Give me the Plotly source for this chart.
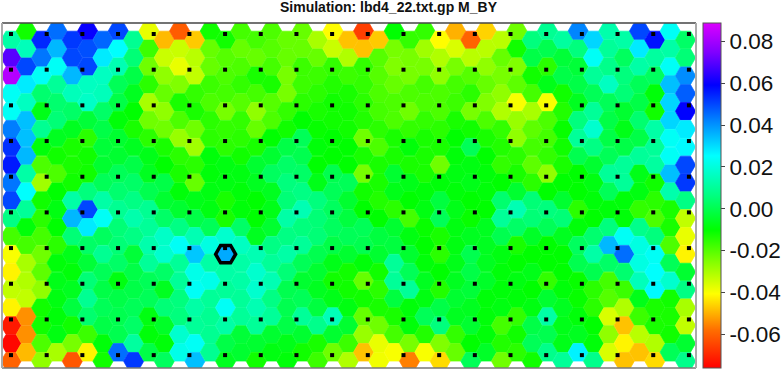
import numpy as np
import plotly.graph_objects as go

TITLE = "Simulation: lbd4_22.txt.gp M_BY"
TICK_VALUES = [-0.06, -0.04, -0.02, 0.00, 0.02, 0.04, 0.06, 0.08]
TICK_LABELS = ["-0.06", "-0.04", "-0.02", "0.00", "0.02", "0.04", "0.06", "0.08"]
VALUE_MIN, VALUE_MAX = -0.0762, 0.0889

# Hexagon values per lattice column, top to bottom, in units of 0.001
C00 = [12,70,83,24,24,43,53,56,44,50,7,-18,-40,-42,-33,-42,-72,-75,-60]
C01 = [-12,15,50,28,16,34,34,35,12,25,10,-9,-18,-30,-31,-33,-54,-54,-49]
C02 = [54,44,24,4,-7,9,-9,-19,-29,-12,-15,-18,-23,-21,-27,-12,-12,-19,-27]
C03 = [45,35,24,10,4,5,-6,-12,-19,-10,-8,-10,-15,-9,-7,-8,-9,-8,-30]
C04 = [52,50,35,15,3,-6,-13,-13,-12,12,35,5,-7,-9,-6,-2,-12,-24,-62]
C05 = [60,49,50,16,17,-3,-15,-12,-12,6,50,28,3,-3,5,9,4,-17,-42]
C06 = [46,28,16,15,3,-1,-3,-4,1,12,24,2,9,1,-1,1,-1,-9,-12]
C07 = [50,25,14,1,-1,-9,-4,-4,1,4,9,5,5,3,-8,-1,0,0,45]
C08 = [9,5,-1,-6,-10,-13,-6,-1,3,7,13,7,-3,-1,-1,1,3,11,52]
C09 = [-38,-17,-23,-15,-30,-23,-15,-7,-6,0,9,10,13,10,1,1,-8,-9,-1]
C10 = [-49,-34,-27,-22,-27,-23,-13,-10,-1,-4,3,17,18,3,-6,5,-5,-9,2]
C11 = [-61,-34,-38,-25,-13,-19,-28,-15,-13,-9,-4,7,24,10,10,6,6,18,22]
C12 = [-47,-32,-33,-16,-13,-23,-29,-15,-22,-7,-1,14,33,22,24,12,10,24,34]
C13 = [-12,-22,-22,-17,-19,-15,-15,-9,-9,-8,-8,1,21,12,22,10,9,9,9]
C14 = [-12,-20,-19,-18,-24,-16,-15,-8,-8,-13,-13,18,37,12,10,24,12,-1,-6]
C15 = [-18,-22,-19,-16,-20,-16,-15,-12,-8,-9,-9,3,16,12,12,10,10,-3,-4]
C16 = [-18,-22,-13,-18,-27,-22,-13,-4,-6,-10,-10,-6,14,18,18,14,10,-4,-12]
C17 = [-19,-20,-18,-13,-20,-19,-10,-4,2,-6,-7,-4,7,10,14,7,10,-4,-8]
C18 = [-22,-22,-24,-24,-16,-12,-1,3,6,5,12,7,12,5,0,0,-1,-7,-9]
C19 = [-22,-22,-17,-17,-15,-10,1,0,3,7,14,6,10,1,-4,1,10,-4,-12]
C20 = [-30,-22,-17,-15,-13,-11,-9,-10,-7,6,5,5,0,-4,-6,-2,8,-13,-17]
C21 = [-41,-34,-16,-14,-12,-12,-10,-10,0,1,2,2,-1,-7,-12,-7,15,-4,-23]
C22 = [-48,-31,-17,-13,-12,-12,-10,-10,1,-4,-2,1,-4,-12,-12,-8,-4,-17,-31]
C23 = [-66,-48,-16,-16,-15,-14,-23,-13,-24,-12,-10,1,0,-9,-22,-12,-22,-28,-48]
C24 = [-47,-20,-20,-19,-18,-15,-19,-13,-13,-14,-10,-2,-4,-12,-15,-13,-23,-38,-39]
C25 = [-10,-24,-25,-22,-19,-19,-13,-13,-4,-7,-15,-4,-2,10,10,-2,-13,-18,-40]
C26 = [-16,-24,-24,-19,-23,-16,-9,-13,-7,-10,-18,-8,-4,1,10,-9,-9,-24,-56]
C27 = [-16,-29,-24,-18,-19,-16,-13,-13,-13,-9,-8,-11,-10,-9,-6,-8,1,-14,-40]
C28 = [-41,-31,-27,-19,-19,-15,-13,-23,-9,-2,1,-13,-15,-10,-14,-1,6,-25,-45]
C29 = [-50,-36,-24,-18,-17,-13,-10,-9,-8,-9,-7,-8,-8,-7,-6,-4,-6,-16,-22]
C30 = [-60,-32,-20,-15,-24,-12,1,-8,-7,-10,-11,-6,0,-1,-3,-6,-4,-10,1]
C31 = [-46,-32,-27,-22,-25,-19,-13,-10,-9,-9,-10,-6,-6,-6,-5,-9,-9,-9,-5]
C32 = [-32,-22,-24,-27,-31,-16,-14,-16,-10,4,10,0,-8,-9,-9,-8,-18,-14,-23]
C33 = [-23,-12,-25,-21,-40,-28,-27,-15,-13,-4,14,3,-13,-10,-8,-9,-16,-12,-15]
C34 = [6,-1,-12,-18,-30,-21,-18,-21,-15,5,5,-5,-10,-7,-10,-8,-1,1,-12]
C35 = [9,0,-15,-7,-40,-19,-18,-16,-27,-10,6,1,-10,-10,-16,-4,12,0,8]
C36 = [11,-3,-1,-12,-14,-11,-12,-13,-10,-4,5,-6,-10,-10,-9,-6,-7,-7,10]
C37 = [42,6,-3,-1,-6,6,10,0,-10,-10,-15,-9,2,0,-11,-11,-9,-6,27]
C38 = [31,24,10,1,10,18,7,-4,-8,-9,-10,4,12,0,-15,-15,-10,-9,8]
C39 = [13,10,8,16,1,-1,-1,1,10,1,-9,6,35,3,-18,-20,-36,-27,-36]
C40 = [12,2,6,5,-4,-7,-1,10,10,-9,-9,24,45,4,-17,-31,-48,-42,-48]
C41 = [50,28,12,1,-1,4,-1,10,-7,-8,-16,8,21,21,15,-7,-17,-32,-48]
C42 = [57,11,2,-9,-12,12,10,11,-12,-15,-19,6,24,25,26,-13,-13,-31,-45]
C43 = [24,12,24,34,31,31,24,24,34,13,-13,-13,-19,1,18,-12,-13,-12,1]
C44 = [3,5,41,47,59,28,26,50,52,7,-33,-38,-42,-4,7,-30,-33,-4,8]

COLUMNS = [C00,C01,C02,C03,C04,C05,C06,C07,C08,C09,C10,C11,C12,C13,C14,C15,
           C16,C17,C18,C19,C20,C21,C22,C23,C24,C25,C26,C27,C28,C29,C30,C31,
           C32,C33,C34,C35,C36,C37,C38,C39,C40,C41,C42,C43,C44]

# Marked hexagon (column, row)
MARKED_COLUMN, MARKED_ROW = 14, 12
# Sample-point lattice
DOT_COLS, DOT_ROWS = 20, 10

COLORSCALE = [
    [0.000, "rgb(255,0,0)"],
    [0.110, "rgb(255,110,0)"],
    [0.215, "rgb(255,255,0)"],
    [0.310, "rgb(128,255,0)"],
    [0.400, "rgb(0,255,0)"],
    [0.500, "rgb(0,255,128)"],
    [0.615, "rgb(0,255,255)"],
    [0.720, "rgb(0,128,255)"],
    [0.820, "rgb(0,0,255)"],
    [0.915, "rgb(128,0,255)"],
    [1.000, "rgb(220,0,255)"],
]

W, H = 783, 369
L, R, T, B = 2, 696, 23, 368
DX, DY = 15.33, 17.85
X0, Y0 = 11, 31

xs, ys, vs = [], [], []
for c, col in enumerate(COLUMNS):
    for r, v in enumerate(col):
        xs.append(c)
        ys.append(r + (0.5 if c % 2 == 0 else 0))
        vs.append(v / 1000)

fig = go.Figure()
marker_line = dict(color=vs, cmin=VALUE_MIN, cmax=VALUE_MAX, colorscale=COLORSCALE, width=0.7)
fig.add_trace(go.Scatter(
    x=xs, y=ys, mode="markers", hoverinfo="skip", showlegend=False,
    marker=dict(
        symbol="hexagon2", size=20.2, color=vs, cmin=VALUE_MIN, cmax=VALUE_MAX,
        colorscale=COLORSCALE, line=marker_line,
        colorbar=dict(
            x=(703 - L) / (R - L), xanchor="left", xpad=0,
            y=0, yanchor="bottom", ypad=0,
            len=1, lenmode="fraction", thickness=18, thicknessmode="pixels",
            outlinecolor="#555555", outlinewidth=1,
            tickmode="array", tickvals=TICK_VALUES, ticktext=TICK_LABELS,
            ticks="outside", ticklen=4, tickwidth=1, tickcolor="#444444",
            tickfont=dict(family="Liberation Sans", size=22.5, color="#111111"),
        ),
    ),
))
fig.add_trace(go.Scatter(
    x=[MARKED_COLUMN], y=[MARKED_ROW + 0.5 * (1 - MARKED_COLUMN % 2)],
    mode="markers", hoverinfo="skip", showlegend=False,
    marker=dict(symbol="hexagon2", size=20, color="rgba(0,0,0,0)",
                line=dict(color="#000000", width=3.5)),
))
dx = [(i * 35.68) / DX for i in range(DOT_COLS) for j in range(DOT_ROWS)]
dy = [(3 + j * 35.68) / DY for i in range(DOT_COLS) for j in range(DOT_ROWS)]
fig.add_trace(go.Scatter(
    x=dx, y=dy, mode="markers", hoverinfo="skip", showlegend=False,
    marker=dict(symbol="square", size=4, color="#000000", line=dict(width=0)),
))

fig.update_layout(
    width=W, height=H, autosize=False,
    margin=dict(l=L, r=W - R, t=T, b=H - B, pad=0),
    paper_bgcolor="#ffffff", plot_bgcolor="#ffffff",
    title=dict(text="<b>" + TITLE + "</b>", x=388.5 / W, xanchor="center", y=1 - 7.5 / H, yanchor="middle",
               font=dict(family="Liberation Sans", size=14, color="#111111")),
    xaxis=dict(range=[(L - X0) / DX, (R - X0) / DX], visible=False, fixedrange=True),
    yaxis=dict(range=[(B - Y0) / DY, (T - Y0) / DY], visible=False, fixedrange=True),
    shapes=[
        dict(type="line", xref="paper", yref="paper", x0=0, x1=1, y0=1, y1=1, line=dict(color="#444444", width=1.5)),
        dict(type="line", xref="paper", yref="paper", x0=0, x1=1, y0=0, y1=0, line=dict(color="#777777", width=1.5)),
        dict(type="line", xref="paper", yref="paper", x0=0, x1=0, y0=0, y1=1, line=dict(color="#aaaaaa", width=2)),
        dict(type="line", xref="paper", yref="paper", x0=1, x1=1, y0=0, y1=1, line=dict(color="#aaaaaa", width=2)),
    ],
)
fig.write_html("out.html", config={"displayModeBar": False},
               post_script="document.body.style.margin='0';document.documentElement.style.overflow='hidden';")
